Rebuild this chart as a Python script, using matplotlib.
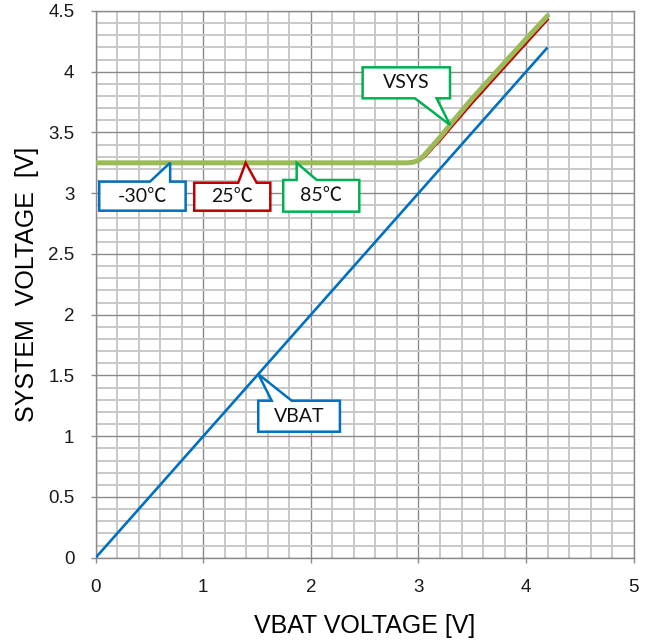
import numpy as np
import matplotlib
matplotlib.use("Agg")
import matplotlib.pyplot as plt
from matplotlib.patches import Polygon
from matplotlib.ticker import MultipleLocator

# ---- data -------------------------------------------------------------
vbat_x = [0.0, 4.2]
vbat_y = [0.0, 4.2]

vsys_x = [0.0, 2.8, 2.9, 2.95, 3.0, 3.05, 3.1, 3.15, 3.2, 3.3, 3.5, 4.0, 4.2]
vsys_m30 = [3.25, 3.25, 3.25, 3.254, 3.268, 3.30, 3.35, 3.40, 3.45, 3.555, 3.765, 4.26, 4.455]
vsys_25 = [3.25, 3.25, 3.25, 3.253, 3.265, 3.295, 3.34, 3.39, 3.435, 3.54, 3.745, 4.235, 4.43]
vsys_85 = [3.25, 3.25, 3.25, 3.255, 3.27, 3.31, 3.36, 3.41, 3.46, 3.57, 3.78, 4.27, 4.46]

x_ticks = [0, 1, 2, 3, 4, 5]
y_ticks = [0, 0.5, 1, 1.5, 2, 2.5, 3, 3.5, 4, 4.5]
x_tick_labels = ["0", "1", "2", "3", "4", "5"]
y_tick_labels = ["0", "0.5", "1", "1.5", "2", "2.5", "3", "3.5", "4", "4.5"]

# ---- style ------------------------------------------------------------
BLUE = "#0070C0"
RED = "#C00000"
GREEN_BOX = "#00B050"
OLIVE = "#9BBB59"
MINOR_GRID = "#C8C8C8"
MAJOR_GRID = "#8A8A8A"

fig = plt.figure(figsize=(6.54, 6.44), dpi=100)
ax = fig.add_axes([0.1463, 0.134, 0.8226, 0.8490])

ax.set_xlim(0, 5)
ax.set_ylim(0, 4.5)
ax.xaxis.set_minor_locator(MultipleLocator(0.2))
ax.yaxis.set_minor_locator(MultipleLocator(0.1))
ax.set_xticks(x_ticks)
ax.set_yticks(y_ticks)
tick_font = dict(family="Liberation Sans", fontsize=13.5, color="#1a1a1a")
ax.set_xticklabels(x_tick_labels, **tick_font)
ax.set_yticklabels(y_tick_labels, **tick_font)
ax.grid(which="minor", color=MINOR_GRID, lw=1.4, zorder=0)
ax.grid(which="major", color=MAJOR_GRID, lw=1.0, zorder=0.5)
ax.set_axisbelow(True)
ax.tick_params(which="minor", length=0)
ax.tick_params(axis="x", which="major", direction="out", length=3.5, width=1, color=MAJOR_GRID, pad=11.5)
ax.tick_params(axis="y", which="major", direction="out", length=3.8, width=1, color=MAJOR_GRID, pad=11.5)
for s in ax.spines.values():
    s.set_color(MAJOR_GRID)
    s.set_linewidth(1.0)

# ---- curves -----------------------------------------------------------
ax.plot(vbat_x, vbat_y, color=BLUE, lw=1.9, zorder=3, solid_capstyle="butt")
ax.plot(vsys_x, vsys_m30, color=BLUE, lw=1.9, zorder=3)
ax.plot(vsys_x, vsys_25, color=RED, lw=2.0, zorder=4)
ax.plot(vsys_x, vsys_85, color=OLIVE, lw=3.6, zorder=5, solid_capstyle="round")

# ---- callouts ---------------------------------------------------------
def callout(text, box, base, tip, color, side):
    """Rectangle with a triangular pointer on its top or bottom edge."""
    x0, y0, x1, y1 = box
    b0, b1 = base
    if side == "top":
        pts = [(x0, y0), (x1, y0), (x1, y1), (b1, y1), tip, (b0, y1), (x0, y1)]
    else:
        pts = [(x0, y0), (b0, y0), tip, (b1, y0), (x1, y0), (x1, y1), (x0, y1)]
    ax.add_patch(Polygon(pts, closed=True, facecolor="white", edgecolor=color,
                         lw=1.8, joinstyle="miter", zorder=6))
    ax.text((x0 + x1) / 2, (y0 + y1) / 2, text, ha="center", va="center",
            family=["Lato", "Noto Sans CJK JP", "DejaVu Sans"], fontsize=14,
            color="#111111", zorder=7)

flat_level = vsys_85[0]
callout("-30℃", (0.033, 2.856, 0.836, 3.095), (0.504, 0.692), (0.692, flat_level), BLUE, "top")
callout("25℃", (0.916, 2.856, 1.623, 3.086), (1.325, 1.496), (1.394, flat_level), RED, "top")
callout("85℃", (1.743, 2.848, 2.450, 3.109), (1.868, 2.054), (1.868, flat_level), GREEN_BOX, "top")

tip_x = 3.293
callout("VSYS", (2.481, 3.781, 3.293, 4.036), (2.967, 3.169),
        (tip_x, float(np.interp(tip_x, vsys_x, vsys_85))), GREEN_BOX, "bottom")
tip_x = 1.511
callout("VBAT", (1.511, 1.037, 2.270, 1.292), (1.636, 1.822),
        (tip_x, float(np.interp(tip_x, vbat_x, vbat_y))), BLUE, "top")

# ---- axis labels ------------------------------------------------------
lab_font = dict(family="Liberation Sans", fontsize=18)
ax.set_xlabel("VBAT VOLTAGE [V]", **lab_font)
ax.set_ylabel("SYSTEM  VOLTAGE  [V]", **lab_font)
ax.xaxis.label.set_va("center")
ax.yaxis.label.set_va("center")
ax.xaxis.set_label_coords(0.5, -0.124)
ax.yaxis.set_label_coords(-0.128, 0.5)

fig.savefig("out.png", dpi=100)
